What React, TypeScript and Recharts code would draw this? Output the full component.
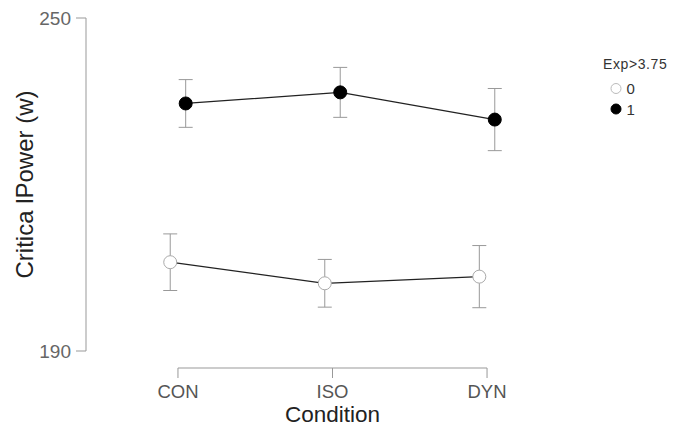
import React from 'react';
import { LineChart, Line, XAxis, YAxis, ErrorBar, ReferenceLine } from 'recharts';

const categories = ['CON', 'ISO', 'DYN'];
const group0Mean = [206.0, 202.2, 203.4];
const group0Err = [5.1, 4.3, 5.6];
const group1Mean = [234.6, 236.6, 231.7];
const group1Err = [4.3, 4.5, 5.6];
const groupNames = ['0', '1'];
const legendTitle = 'Exp>3.75';
const yTicks = [190, 250];
const xLabel = 'Condition';
const yLabel = 'Critica lPower (w)';
const dodge = 0.05;

const FONT = '"Liberation Sans", Arial, sans-serif';

const series0 = categories.map((c, i) => ({ x: i - dodge, y: group0Mean[i], err: group0Err[i] }));
const series1 = categories.map((c, i) => ({ x: i + dodge, y: group1Mean[i], err: group1Err[i] }));

const XTick = (props: any) => {
  const { x, y, payload } = props;
  return (
    <g>
      <line x1={x} x2={x} y1={y + 17} y2={y + 27} stroke="#999" strokeWidth={1} />
      <text x={x} y={y + 47} textAnchor="middle" fontSize={18.5} fill="#555" fontFamily={FONT}>
        {categories[payload.value]}
      </text>
    </g>
  );
};

export default function App() {
  return (
    <div style={{ position: 'absolute', left: 0, top: 0, width: 673, height: 427, background: '#fff' }}>
      <LineChart
        width={673}
        height={427}
        margin={{ top: 18, right: 94, bottom: 46, left: 0 }}
        style={{ fontFamily: FONT }}
      >
        <XAxis
          type="number"
          dataKey="x"
          domain={[-0.595, 2.595]}
          ticks={[0, 1, 2]}
          axisLine={false}
          tickLine={false}
          tickSize={0}
          tickMargin={0}
          height={30}
          tick={<XTick />}
          interval={0}
          label={{
            content: (p: any) => {
              const vb = p.viewBox || {};
              return (
                <text x={vb.x + vb.width / 2} y={vb.y + 71} textAnchor="middle" fontSize={22.5} fill="#222" fontFamily={FONT}>
                  {xLabel}
                </text>
              );
            },
          }}
        />
        <YAxis
          type="number"
          domain={[190, 250]}
          ticks={yTicks}
          width={86}
          tickSize={10}
          tickMargin={5}
          axisLine={{ stroke: '#999' }}
          tickLine={{ stroke: '#999' }}
          tick={{ fontSize: 19, fill: '#666', fontFamily: FONT }}
          label={{
            content: (p: any) => {
              const vb = p.viewBox || {};
              const cx = 24;
              const cy = vb.y + vb.height / 2;
              return (
                <text x={cx} y={cy} transform={`rotate(-90 ${cx} ${cy})`} textAnchor="middle" dominantBaseline="central" fontSize={24} fill="#222" fontFamily={FONT}>
                  {yLabel}
                </text>
              );
            },
          }}
        />
        <ReferenceLine
          segment={[{ x: 0, y: 190 }, { x: 2, y: 190 }]}
          ifOverflow="visible"
          shape={(p: any) => (
            <line x1={p.x1} x2={p.x2} y1={p.y1 + 17} y2={p.y2 + 17} stroke="#999" strokeWidth={1} />
          )}
        />
        <Line
          data={series0}
          dataKey="y"
          name={groupNames[0]}
          stroke="#222"
          strokeWidth={1.3}
          isAnimationActive={false}
          activeDot={false}
          dot={{ r: 6.5, fill: '#fff', stroke: '#aaa', strokeWidth: 1 }}
        >
          <ErrorBar dataKey="err" direction="y" width={7} stroke="#999" strokeWidth={1} isAnimationActive={false} />
        </Line>
        <Line
          data={series1}
          dataKey="y"
          name={groupNames[1]}
          stroke="#222"
          strokeWidth={1.3}
          isAnimationActive={false}
          activeDot={false}
          dot={{ r: 6.5, fill: '#000', stroke: '#000', strokeWidth: 1 }}
        >
          <ErrorBar dataKey="err" direction="y" width={7} stroke="#999" strokeWidth={1} isAnimationActive={false} />
        </Line>
      </LineChart>
      <svg width={673} height={427} style={{ position: 'absolute', left: 0, top: 0, pointerEvents: 'none' }}>
        <text x={603} y={69} fontSize={14} letterSpacing={0.6} fill="#333" fontFamily={FONT}>
          {legendTitle}
        </text>
        <circle cx={616} cy={88.5} r={5} fill="#fff" stroke="#bbb" strokeWidth={1} />
        <text x={626.5} y={94} fontSize={15} fill="#333" fontFamily={FONT}>
          {groupNames[0]}
        </text>
        <circle cx={616} cy={109} r={5} fill="#000" stroke="#000" />
        <text x={626.5} y={114.5} fontSize={15} fill="#333" fontFamily={FONT}>
          {groupNames[1]}
        </text>
      </svg>
    </div>
  );
}
